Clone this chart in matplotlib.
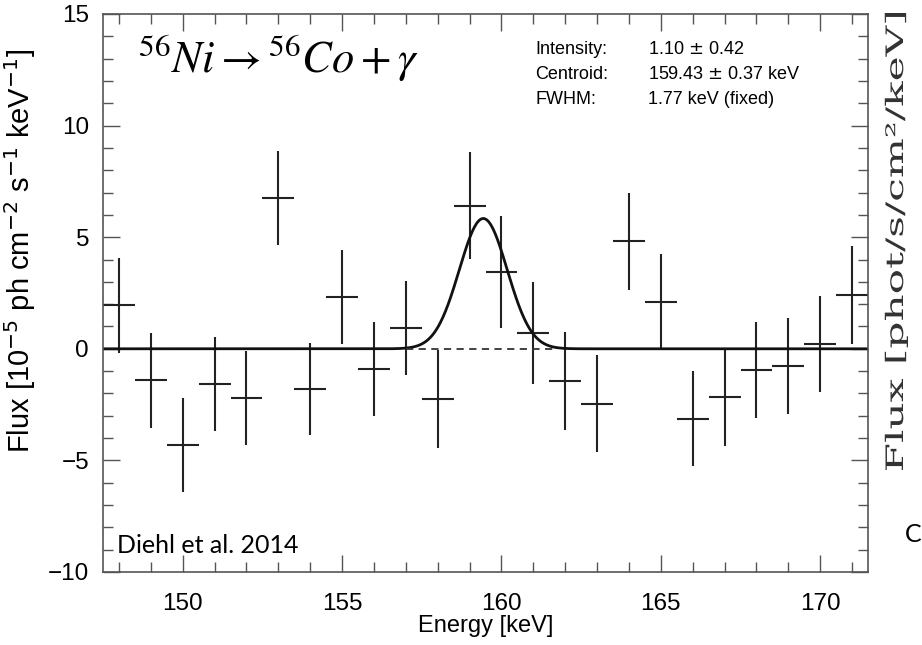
import numpy as np
import matplotlib
matplotlib.use("Agg")
import matplotlib.pyplot as plt
from matplotlib.ticker import MultipleLocator
from matplotlib.textpath import TextPath
from matplotlib.patches import PathPatch
from matplotlib.font_manager import FontProperties
from matplotlib.transforms import Affine2D

# spectrum bins (keV) and flux in 1e-5 ph cm^-2 s^-1 keV^-1
energy = [148, 149, 150, 151, 152, 153, 154, 155, 156, 157, 158, 159,
          160, 161, 162, 163, 164, 165, 166, 167, 168, 169, 170, 171]
flux = [1.94, -1.42, -4.30, -1.57, -2.21, 6.77, -1.82, 2.33, -0.91, 0.94, -2.24, 6.41,
        3.45, 0.70, -1.43, -2.47, 4.81, 2.11, -3.14, -2.18, -0.96, -0.75, 0.21, 2.41]
flux_err = [2.15, 2.13, 2.10, 2.10, 2.10, 2.11, 2.06, 2.10, 2.09, 2.11, 2.20, 2.40,
            2.52, 2.28, 2.19, 2.17, 2.17, 2.12, 2.13, 2.17, 2.15, 2.15, 2.15, 2.18]
bin_halfwidth = 0.5

# line fit parameters
intensity = 11.0      # 1.10e-4 ph cm^-2 s^-1 -> 11.0 in 1e-5 units
centroid = 159.43
fwhm = 1.77

sans = 'Liberation Sans'

fig = plt.figure(figsize=(9.22, 6.45), dpi=100)
ax = fig.add_axes([103 / 922, 1 - 572 / 645, 765 / 922, 558 / 645])

ax.errorbar(energy, flux, yerr=flux_err, xerr=bin_halfwidth, fmt='none',
            ecolor='#222222', elinewidth=1.5, capsize=0)

sigma = fwhm / 2.3548
x = np.linspace(147.5, 171.5, 1200)
model = intensity / (sigma * np.sqrt(2 * np.pi)) * np.exp(-0.5 * ((x - centroid) / sigma) ** 2)
ax.plot(x, model, color='#111111', lw=2.0)
ax.plot([157.0, 161.7], [0, 0], color='#333333', lw=1.3, ls=(0, (4, 3)))

ax.set_xlim(147.5, 171.5)
ax.set_ylim(-10, 15)
ax.xaxis.set_major_locator(MultipleLocator(5))
ax.xaxis.set_minor_locator(MultipleLocator(1))
ax.yaxis.set_major_locator(MultipleLocator(5))
ax.yaxis.set_minor_locator(MultipleLocator(1))
ax.tick_params(which='both', direction='in', top=True, right=True, color='#555555', width=1.0)
ax.tick_params(which='major', length=12, labelsize=17.5)
ax.tick_params(axis='x', which='major', pad=15)
ax.tick_params(axis='y', which='major', pad=10)
ax.tick_params(which='minor', length=7)
for s in ax.spines.values():
    s.set_color('#555555')
    s.set_linewidth(1.2)
for lab in ax.get_xticklabels() + ax.get_yticklabels():
    lab.set_family(sans)

fig.text(486 / 922, 1 - 626 / 645, 'Energy [keV]', fontsize=17, family=sans,
         ha='center', va='center')
fig.text(20 / 922, 1 - 251 / 645, r'Flux [10$^{-5}$ ph cm$^{-2}$ s$^{-1}$ keV$^{-1}$]',
         fontsize=21, family=sans, rotation=90, ha='center', va='center')

# reaction label
ax.text(0.046, 0.894, r'$^{56}Ni \rightarrow {}^{56}Co + \gamma$', transform=ax.transAxes,
        fontsize=32, math_fontfamily='stix', ha='left', va='baseline')

# fit results
rows = [('Intensity:', r'1.10 $\pm$ 0.42'),
        ('Centroid:', r'159.43 $\pm$ 0.37 keV'),
        ('FWHM:', '1.77 keV (fixed)')]
for i, (k, v) in enumerate(rows):
    yb = 54 + 25 * i
    fig.text(535 / 922, 1 - yb / 645, k, fontsize=13, family=sans, va='baseline')
    fig.text(648 / 922, 1 - yb / 645, v, fontsize=13, family=sans, va='baseline')

fig.text(117 / 922, 1 - 553 / 645, 'Diehl et al. 2014', fontsize=18, family='Lato', va='baseline')

# pieces of the neighbouring slide content
fig.text(905 / 922, 1 - 542 / 645, 'C', fontsize=18, family='Lato', va='baseline')

# stretched rotated label on the right edge
tp = TextPath((0, 0), 'Flux [phot/s/cm²/keV]', size=24, prop=FontProperties(family='DejaVu Serif'))
ext = tp.get_extents()
stretch = 457 / ext.width
tr = Affine2D().translate(-ext.x0, 0).scale(stretch, 1.0).rotate_deg(90).translate(903, 645 - 470)
fig.patches.append(PathPatch(tp, transform=tr, facecolor='#333333', edgecolor='none', figure=fig))

fig.savefig('out.png', dpi=100)
